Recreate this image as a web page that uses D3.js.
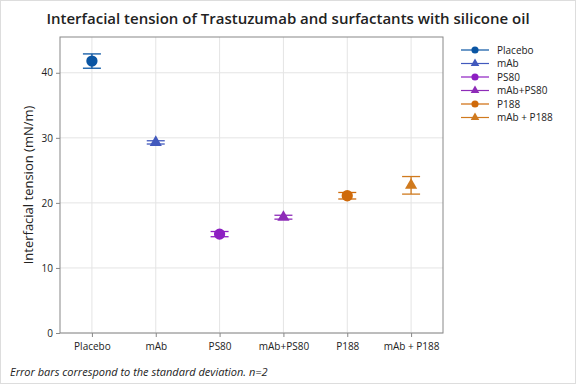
<!DOCTYPE html>
<html>
<head>
<meta charset="utf-8">
<script src="https://cdn.jsdelivr.net/npm/d3@7"></script>
<style>
  body { margin: 0; background: #fff; }
  text { font-family: "Open Sans", "Noto Sans", sans-serif; fill: #222; }
</style>
</head>
<body>
<svg id="chart" width="576" height="384"></svg>
<script>
const groups = ["Placebo", "mAb", "PS80", "mAb+PS80", "P188", "mAb + P188"];
const means  = [41.8, 29.3, 15.2, 17.8, 21.1, 22.7];
const sds    = [1.1, 0.25, 0.4, 0.3, 0.5, 1.35];
const shapes = ["circle", "triangle", "circle", "triangle", "circle", "triangle"];
const colors = ["#0a55a3", "#4259bd", "#8d1fc2", "#8e2cb8", "#cf6a0a", "#d07a1e"];
const yTicks = [0, 10, 20, 30, 40];

const svg = d3.select("#chart");
const m = {left: 60, right: 443, top: 37, bottom: 333};

// outer frame
svg.append("rect").attr("x", 0.5).attr("y", 0.5).attr("width", 575).attr("height", 383)
  .attr("fill", "none").attr("stroke", "#ddd");

const x = d3.scalePoint().domain(groups).range([m.left, m.right]).padding(0.5);
const y = d3.scaleLinear().domain([0, 45.5]).range([m.bottom, m.top]);

// grid
const grid = svg.append("g");
grid.selectAll("line.h").data(yTicks).join("line")
  .attr("x1", m.left).attr("x2", m.right)
  .attr("y1", d => y(d)).attr("y2", d => y(d))
  .attr("stroke", "#e4e4e4");
grid.selectAll("line.v").data(groups).join("line")
  .attr("x1", d => x(d)).attr("x2", d => x(d))
  .attr("y1", m.top).attr("y2", m.bottom)
  .attr("stroke", "#e4e4e4");

// axes
const yAxis = svg.append("g").attr("transform", `translate(${m.left},0)`)
  .call(d3.axisLeft(y).tickValues(yTicks).tickSize(4).tickPadding(3));
const xAxis = svg.append("g").attr("transform", `translate(0,${m.bottom})`)
  .call(d3.axisBottom(x).tickSize(4).tickPadding(6));
[xAxis, yAxis].forEach(a => {
  a.select(".domain").remove();
  a.selectAll("line").attr("stroke", "#888");
  a.selectAll("text").attr("font-size", 10).attr("fill", "#222")
    .attr("font-family", "'Open Sans', sans-serif");
});

// plot border
svg.append("rect").attr("x", m.left).attr("y", m.top)
  .attr("width", m.right - m.left).attr("height", m.bottom - m.top)
  .attr("fill", "none").attr("stroke", "#888");

// error bars and markers
const sym = s => s === "circle" ? d3.symbol(d3.symbolCircle, 100)() : d3.symbol(d3.symbolTriangle, 64)();
groups.forEach((g, i) => {
  const cx = x(g), c = colors[i];
  const lo = y(means[i] - sds[i]), hi = y(means[i] + sds[i]);
  const eg = svg.append("g").attr("stroke", c).attr("stroke-width", 1.3);
  eg.append("line").attr("x1", cx).attr("x2", cx).attr("y1", lo).attr("y2", hi);
  eg.append("line").attr("x1", cx - 9).attr("x2", cx + 9).attr("y1", lo).attr("y2", lo);
  eg.append("line").attr("x1", cx - 9).attr("x2", cx + 9).attr("y1", hi).attr("y2", hi);
  svg.append("path").attr("d", sym(shapes[i]))
    .attr("transform", `translate(${cx},${y(means[i])})`)
    .attr("fill", c);
});

// title
svg.append("text").attr("x", 288).attr("y", 24).attr("text-anchor", "middle")
  .attr("font-size", 15).attr("font-weight", 600).attr("fill", "#333")
  .text("Interfacial tension of Trastuzumab and surfactants with silicone oil");

// y label
svg.append("text").attr("transform", `translate(33,${(m.top + m.bottom) / 2}) rotate(-90)`)
  .attr("text-anchor", "middle").attr("font-size", 13)
  .text("Interfacial tension (mN/m)");

// footnote
svg.append("text").attr("x", 10).attr("y", 376).attr("font-size", 11)
  .attr("font-style", "italic").attr("fill", "#333")
  .text("Error bars correspond to the standard deviation. n=2");

// legend
const leg = svg.append("g").attr("transform", "translate(461,50)");
groups.forEach((g, i) => {
  const row = leg.append("g").attr("transform", `translate(0,${i * 13.5})`);
  row.append("line").attr("x1", 0).attr("x2", 28).attr("stroke", colors[i]).attr("stroke-width", 1.2);
  row.append("path").attr("d", shapes[i] === "circle" ? d3.symbol(d3.symbolCircle, 40)() : d3.symbol(d3.symbolTriangle, 32)())
    .attr("transform", "translate(14,0)").attr("fill", colors[i]);
  row.append("text").attr("x", 36).attr("y", 3.5).attr("font-size", 10).text(g);
});
</script>
</body>
</html>
